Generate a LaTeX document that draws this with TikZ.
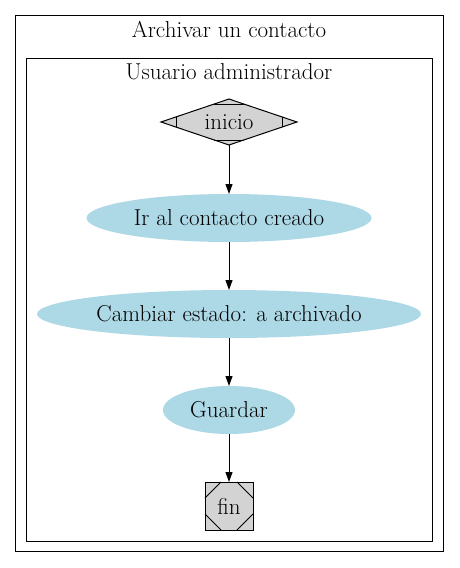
\documentclass[tikz,border=0pt]{standalone}
\usepackage{tikz}
\usetikzlibrary{arrows.meta,shapes.geometric,calc}
\definecolor{azulclaro}{RGB}{173,216,230}
\definecolor{grisclaro}{RGB}{211,211,211}

\begin{document}
\begin{tikzpicture}[x=1pt, y=-1pt, line width=1pt,
		font=\fontsize{23}{27}\selectfont,
		paso/.style={ellipse, fill=azulclaro, minimum height=48pt, inner sep=0pt, outer sep=0pt},
		flecha/.style={-{Triangle[length=10pt,width=7pt]}}]
				\useasboundingbox (0,0) rectangle (459,568);
				% marcos
				\draw (15,15) rectangle (443,551);
				\node (titulo) at (229,29) {Archivar un contacto};
				\draw (26,58) rectangle (432,541);
				\node (usuario) at (229,72) {Usuario administrador};
				% nodos
				\node[diamond, aspect=2.96, draw, fill=grisclaro, minimum width=136pt, minimum height=46pt, inner sep=0pt, outer sep=0pt] (inicio) at (229,122) {inicio};
				\draw ($(inicio.north)+(-14.8,5)$) -- ($(inicio.north)+(14.8,5)$);
				\draw ($(inicio.south)+(-14.8,-5)$) -- ($(inicio.south)+(14.8,-5)$);
				\draw ($(inicio.west)+(15,-5.1)$) -- ($(inicio.west)+(15,5.1)$);
				\draw ($(inicio.east)+(-15,-5.1)$) -- ($(inicio.east)+(-15,5.1)$);
				\node[paso, minimum width=285pt] (ir) at (229,218) {Ir al contacto creado};
				\node[paso, minimum width=384pt] (cambiar) at (229,314) {Cambiar estado: a archivado};
				\node[paso, minimum width=132pt] (guardar) at (229,410) {Guardar};
				\node[draw, fill=grisclaro, minimum size=48pt, inner sep=0pt, outer sep=0pt] (fin) at (229,506) {fin};
				\draw ($(fin.north west)+(0,16)$) -- ($(fin.north west)+(16,0)$);
				\draw ($(fin.north east)+(0,16)$) -- ($(fin.north east)+(-16,0)$);
				\draw ($(fin.south west)+(0,-16)$) -- ($(fin.south west)+(16,0)$);
				\draw ($(fin.south east)+(0,-16)$) -- ($(fin.south east)+(-16,0)$);
				% flechas
				\draw[flecha] (inicio) -- (ir);
				\draw[flecha] (ir) -- (cambiar);
				\draw[flecha] (cambiar) -- (guardar);
				\draw[flecha] (guardar) -- (fin);
			\end{tikzpicture}
\end{document}
